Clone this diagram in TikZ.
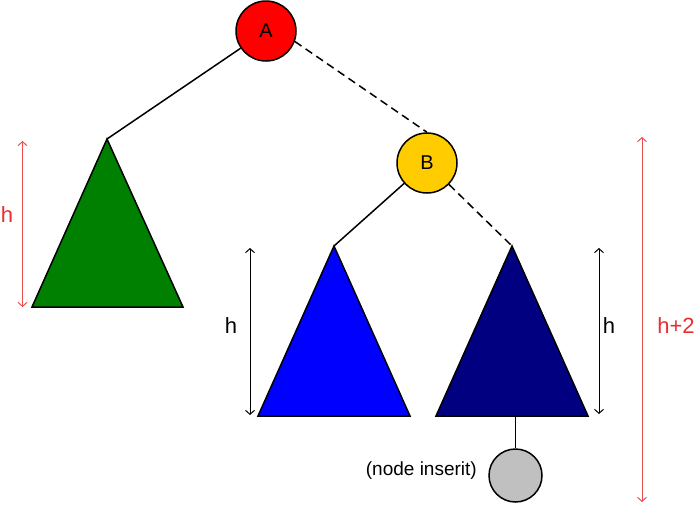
\documentclass[tikz,border=0pt]{standalone}
\usepackage{fontspec}
\setmainfont{Liberation Sans}
\usetikzlibrary{arrows.meta}
\definecolor{hred}{RGB}{235,45,45}
\definecolor{ared}{RGB}{235,80,80}
\definecolor{agold}{RGB}{255,204,0}
\definecolor{tgreen}{RGB}{0,128,0}
\definecolor{tblue}{RGB}{0,0,255}
\definecolor{tnavy}{RGB}{0,0,128}
\definecolor{tgray}{RGB}{192,192,192}
\tikzset{
  treenode/.style={circle,draw=black,line width=1.5pt,minimum size=60pt,inner sep=0pt,font=\fontsize{20}{20}\selectfont},
  edge/.style={line width=1.5pt},
  dashedge/.style={line width=1.5pt,dash pattern=on 8pt off 5pt},
  tri/.style={draw=black,line width=1.5pt,line join=miter},
  dim/.style={line width=1pt,{Straight Barb[length=4pt,width=9pt]}-{Straight Barb[length=4pt,width=9pt]}},
  hlab/.style={anchor=base,inner sep=0pt,font=\fontsize{22}{22}\selectfont},
}
\begin{document}
\begin{tikzpicture}[x=1pt,y=-1pt]
\useasboundingbox (0,0) rectangle (697,504);
\fill[white] (0,0) rectangle (697,504);
% triangles
\coordinate (gtop) at (107,139);
\coordinate (btop) at (334,246);
\coordinate (ntop) at (512,246);
\coordinate (nbase) at (515.5,416);
\draw[tri,fill=tgreen] (gtop) -- (32,307) -- (183,307) -- cycle;
\draw[tri,fill=tblue] (btop) -- (258,416) -- (410,416) -- cycle;
\draw[tri,fill=tnavy] (ntop) -- (436,416) -- (588,416) -- cycle;
% nodes
\node[treenode,fill=red] (A) at (266,31) {A};
\node[treenode,fill=agold] (B) at (427,163) {B};
\node[treenode,fill=tgray,minimum size=53pt] (N) at (515.5,475.5) {};
\node[anchor=east,inner sep=0pt,font=\fontsize{19}{19}\selectfont] (lab) at (477,471) {(node inserit)};
% edges
\draw[edge] (A) -- (gtop);
\draw[dashedge] (A.-20) -- (B.north);
\draw[edge] (B) -- (btop);
\draw[dashedge] (B) -- (ntop);
\draw[edge] (nbase) -- (N);
% dimension arrows
\coordinate (d1a) at (22.5,141); \coordinate (d1b) at (22.5,307);
\coordinate (d2a) at (250,248); \coordinate (d2b) at (250,415);
\coordinate (d3a) at (599,248); \coordinate (d3b) at (599,414);
\coordinate (d4a) at (642,137); \coordinate (d4b) at (642,502);
\draw[dim,ared] (d1a) -- (d1b);
\draw[dim,black] (d2a) -- (d2b);
\draw[dim,black] (d3a) -- (d3b);
\draw[dim,ared] (d4a) -- (d4b);
\node[hlab,text=hred] (h1) at (7,222) {h};
\node[hlab] (h2) at (231,333) {h};
\node[hlab] (h3) at (609,333) {h};
\node[hlab,text=hred] (h4) at (676,333) {h+2};
\end{tikzpicture}
\end{document}
